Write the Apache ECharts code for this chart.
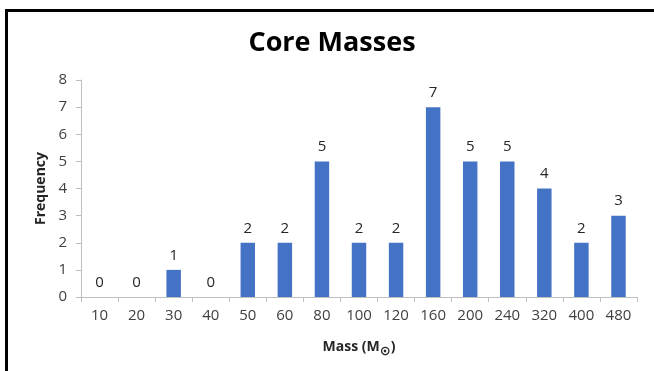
<!DOCTYPE html>
<html>
<head>
<meta charset="utf-8">
<style>
  html, body { margin: 0; padding: 0; background: #fff; }
  #chart { width: 654px; height: 371px; }
</style>
<script src="https://cdn.jsdelivr.net/npm/echarts@6/dist/echarts.min.js"></script>
</head>
<body>
<div id="chart"></div>
<script>
// Core mass bins (solar masses) and number of objects in each bin
const massBins = ['10', '20', '30', '40', '50', '60', '80', '100', '120', '160', '200', '240', '320', '400', '480'];
const frequency = [0, 0, 1, 0, 2, 2, 5, 2, 2, 7, 5, 5, 4, 2, 3];
const yTicks = { min: 0, max: 8, interval: 1 };

const chart = echarts.init(document.getElementById('chart'), null, { renderer: 'canvas' });
const font = '"Open Sans", Lato, sans-serif';

chart.setOption({
  animation: false,
  backgroundColor: '#ffffff',
  textStyle: { fontFamily: font },
  graphic: [{
    type: 'rect',
    shape: { x: 6.5, y: 10.5, width: 700, height: 400 },
    style: { fill: 'none', stroke: '#000000', lineWidth: 3 },
    silent: true
  }],
  title: {
    text: 'Core Masses',
    left: 327,
    textAlign: 'center',
    top: 25,
    textStyle: { fontFamily: font, fontSize: 27, fontWeight: 'bold', color: '#000000' }
  },
  grid: { left: 81, right: 17, top: 80, bottom: 74 },
  xAxis: {
    type: 'category',
    data: massBins,
    name: '{a|Mass (M}{s|⊙}{a|)}',
    nameLocation: 'middle',
    nameGap: 40,
    nameTextStyle: {
      rich: {
        a: { fontFamily: font, fontSize: 14, fontWeight: 'bold', color: '#262626' },
        s: { fontFamily: 'DejaVu Sans', fontSize: 13, fontWeight: 'bold', color: '#262626', padding: [8, 0, 0, 0] }
      }
    },
    axisLine: { lineStyle: { color: '#bfbfbf', width: 1 } },
    axisTick: { show: true, length: 5, lineStyle: { color: '#bfbfbf' } },
    axisLabel: { fontFamily: font, fontSize: 15, color: '#404040', margin: 11 },
    splitLine: { show: false }
  },
  yAxis: {
    type: 'value',
    min: yTicks.min,
    max: yTicks.max,
    interval: yTicks.interval,
    name: 'Frequency',
    nameLocation: 'middle',
    nameGap: 33,
    nameTextStyle: { fontFamily: font, fontSize: 14, fontWeight: 'bold', color: '#262626' },
    axisLine: { show: true, lineStyle: { color: '#bfbfbf', width: 1 } },
    axisTick: { show: true, length: 5, lineStyle: { color: '#bfbfbf' } },
    axisLabel: { fontFamily: font, fontSize: 15, color: '#404040', margin: 14 },
    splitLine: { show: false }
  },
  series: [{
    type: 'bar',
    data: frequency,
    barWidth: '39%',
    itemStyle: { color: '#4472c4' },
    label: {
      show: true,
      position: 'top',
      distance: 7,
      fontFamily: font,
      fontSize: 15,
      color: '#262626'
    }
  }]
});
</script>
</body>
</html>
